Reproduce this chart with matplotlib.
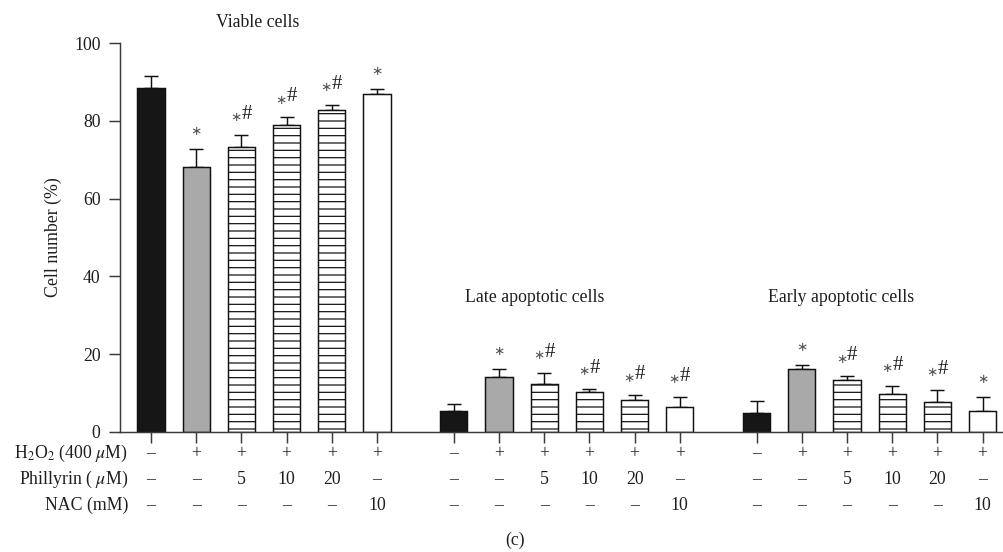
import numpy as np
import matplotlib
matplotlib.use("Agg")
from matplotlib import pyplot as plt
from matplotlib import transforms

plt.rcParams["font.family"] = ["Liberation Serif", "DejaVu Sans"]
plt.rcParams["mathtext.fontset"] = "stix"
plt.rcParams["hatch.linewidth"] = 1.0

# values
groups = ["Viable cells", "Late apoptotic cells", "Early apoptotic cells"]
viable_mean = [88.5, 68.2, 73.4, 78.9, 82.9, 87.0]
viable_err = [3.1, 4.5, 3.1, 2.1, 1.3, 1.3]
late_mean = [5.4, 14.1, 12.2, 10.2, 8.2, 6.4]
late_err = [1.8, 2.1, 3.0, 0.9, 1.2, 2.6]
early_mean = [4.7, 16.1, 13.2, 9.6, 7.6, 5.3]
early_err = [3.3, 1.2, 1.1, 2.2, 3.2, 3.6]
viable_sig = ["", "*", "*#", "*#", "*#", "*"]
late_sig = ["", "*", "*#", "*#", "*#", "*#"]
early_sig = ["", "*", "*#", "*#", "*#", "*"]

row_labels = ["H$_2$O$_2$ (400 $\\mu$M)", "Phillyrin ( $\\mu$M)", "NAC (mM)"]
h2o2 = ["–", "+", "+", "+", "+", "+"]
phillyrin = ["–", "–", "5", "10", "20", "–"]
nac = ["–", "–", "–", "–", "–", "10"]

DPI = 88
W, H = 1003, 552
fig = plt.figure(figsize=(W / DPI, H / DPI), dpi=DPI)
ax = fig.add_axes([120 / W, 120.3 / H, (1002 - 120) / W, 388.4 / H])

axis_col = "#3a3a3a"
text_col = "#1e1e1e"
fs = 14.5

styles = [
    dict(color="#161616", hatch=None),
    dict(color="#a9a9a9", hatch=None),
    dict(color="white", hatch="--"),
    dict(color="white", hatch="--"),
    dict(color="white", hatch="--"),
    dict(color="white", hatch=None),
]

gap = 6.7
width = 0.6
all_means = [viable_mean, late_mean, early_mean]
all_errs = [viable_err, late_err, early_err]
all_sigs = [viable_sig, late_sig, early_sig]
title_x = [2.37, 8.5, 15.27]
title_ypx = [22.7, 297, 297]

xticks = []
for g in range(3):
    xs = np.arange(6) + g * gap
    xticks.extend(xs)
    for i, x in enumerate(xs):
        st = styles[i]
        ax.bar(x, all_means[g][i], width=width, color=st["color"], edgecolor="#111111",
               linewidth=1.2, hatch=st["hatch"], zorder=2)
        ax.errorbar(x, all_means[g][i], yerr=[[0], [all_errs[g][i]]], fmt="none",
                    ecolor="#111111", elinewidth=1.2, capsize=6, capthick=1.2, zorder=1)
        sig = all_sigs[g][i]
        top = all_means[g][i] + all_errs[g][i]
        if sig == "*":
            ax.annotate("∗", (x, top), xytext=(0, 9), textcoords="offset points",
                        ha="center", va="bottom", fontsize=11, color="#555555",
                        family="DejaVu Sans")
        elif sig == "*#":
            ax.annotate("∗", (x, top), xytext=(-4.5, 8.5), textcoords="offset points",
                        ha="center", va="bottom", fontsize=11, color="#555555",
                        family="DejaVu Sans")
            ax.annotate("#", (x, top), xytext=(0, 9), textcoords="offset points",
                        ha="left", va="bottom", fontsize=17, color=text_col)

    ax.text(title_x[g], 1 - title_ypx[g] / H, groups[g], fontsize=fs, color=text_col,
            ha="center", va="center",
            transform=transforms.blended_transform_factory(ax.transData, fig.transFigure))

ax.set_xlim(-0.686, 18.83)
ax.set_ylim(0, 100)
ax.set_yticks(np.arange(0, 101, 20))
ax.set_xticks(xticks)
ax.set_xticklabels([])
ax.set_ylabel("Cell number (%)", fontsize=fs, color=text_col, labelpad=10)
ax.tick_params(axis="both", direction="out", length=9, width=1.2, color=axis_col,
               labelsize=fs, labelcolor=text_col, pad=7)
for side in ["top", "right"]:
    ax.spines[side].set_visible(False)
for side in ["left", "bottom"]:
    ax.spines[side].set_color(axis_col)
    ax.spines[side].set_linewidth(1.2)

# condition table under the bars
trans = transforms.blended_transform_factory(ax.transData, fig.transFigure)
row_ypx = [453.3, 479.3, 505.7]
rows = [h2o2, phillyrin, nac]
for r, (lab, vals) in enumerate(zip(row_labels, rows)):
    y = 1 - row_ypx[r] / H
    fig.text(128 / W, y, lab, ha="right", va="center", fontsize=fs, color=text_col)
    for x, v in zip(xticks, vals * 3):
        ax.text(x, y, v, ha="center", va="center", fontsize=fs, color=text_col,
                transform=trans)

fig.text(515 / W, 1 - 540 / H, "(c)", ha="center", va="center", fontsize=fs, color=text_col)

fig.savefig("out.png", dpi=DPI)
